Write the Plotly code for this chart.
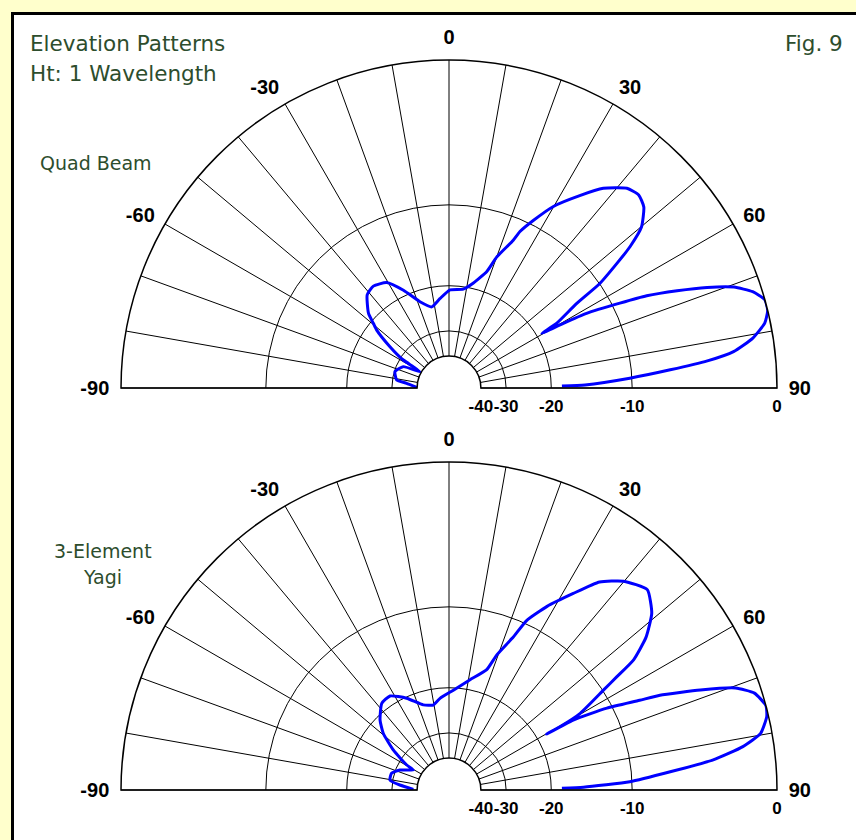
import plotly.graph_objects as go

# ---- data (elevation angle measured from zenith, gain in dB) ----
quad_theta = [89.0, 88.7, 86.9, 85.3, 84.0, 82.7, 80.7, 78.4, 76.3, 74.4, 72.4, 70.5,
              68.7, 66.9, 65.0, 63.6, 61.5, 60.5, 59.5, 59.0, 56.5, 55.3, 53.4, 52.0,
              50.1, 47.1, 44.5, 41.7, 37.7, 34.2, 29.9, 26.7, 24.4, 23.5, 20.0, 18.0,
              13.1, 8.2, 0.6, -5.7, -12.0, -18.6, -25.0, -30.6, -36.6, -41.3, -47.2,
              -49.5, -51.3, -55.0, -58.5, -59.2, -60.7, -65.0, -73.2, -81.3, -83.7, -88.8]
quad_db = [-18.3, -15.1, -10.2, -6.7, -4.0, -2.3, -1.1, -0.3, 0.0, 0.0, -0.5, -1.4,
           -2.9, -4.8, -7.0, -9.3, -12.7, -15.7, -19.1, -16.5, -13.1, -10.0, -7.7, -6.1,
           -4.6, -3.6, -3.3, -3.5, -4.5, -5.9, -7.7, -9.6, -11.1, -12.2, -14.7, -16.9,
           -19.1, -20.4, -20.7, -22.2, -23.6, -22.0, -19.1, -16.9, -16.3, -16.7, -18.8,
           -20.5, -21.7, -26.0, -31.1, -35.4, -39.3, -32.1, -30.2, -31.3, -35.0, -39.8]

yagi_theta = [89.1, 88.8, 87.4, 85.3, 83.5, 81.6, 79.7, 77.0, 75.1, 72.4, 70.4, 68.3,
              65.8, 64.8, 62.6, 60.6, 60.2, 60.3, 59.7, 57.1, 56.0, 54.8, 52.2, 48.9,
              44.7, 39.9, 35.9, 32.3, 28.1, 24.6, 22.8, 19.5, 17.4, 10.8, 2.5, -5.6,
              -10.5, -16.8, -24.8, -32.1, -37.8, -44.6, -49.2, -54.3, -59.4, -60.7,
              -67.8, -73.8, -80.4, -84.2, -88.9]
yagi_db = [-18.3, -15.3, -10.2, -6.7, -3.6, -1.7, -0.6, -0.1, 0.0, -0.4, -1.3, -3.3,
           -6.0, -7.6, -10.5, -14.3, -18.4, -16.2, -13.2, -9.9, -8.3, -6.4, -4.7, -3.4,
           -2.6, -3.2, -4.2, -5.9, -7.8, -9.7, -11.7, -14.2, -16.4, -18.4, -20.4, -21.8,
           -22.9, -22.4, -20.2, -18.6, -18.8, -20.7, -22.8, -26.9, -32.6, -35.7,
           -31.3, -29.2, -29.2, -32.5, -38.1]

db_ticks = [-40, -30, -20, -10, 0]
db_tick_labels = ["-40", "-30", "-20", "-10", "0"]
angle_ticks = list(range(-90, 91, 10))
angle_labels = {-90: "-90", -60: "-60", -30: "-30", 0: "0", 30: "30", 60: "60", 90: "90"}

W, H = 856, 840


def arrl(db):
    """ARRL log-periodic radial scale: 0.89 per 2 dB."""
    return [0.89 ** (-d / 2.0) for d in db]


r_min = arrl([db_ticks[0]])[0]
ang_font = dict(family="Liberation Sans", size=20, color="black", weight="bold")
rad_font = dict(family="Liberation Sans", size=17, color="black", weight="bold")


def polar_cfg(ytop_px, ybot_px):
    return dict(
        domain=dict(x=[121 / W, 777 / W], y=[1 - ybot_px / H, 1 - ytop_px / H]),
        sector=[0, 180],
        hole=r_min,
        bgcolor="white",
        angularaxis=dict(
            rotation=90, direction="clockwise",
            tickmode="array",
            tickvals=angle_ticks,
            ticktext=[angle_labels.get(t, "") for t in angle_ticks],
            showgrid=True, gridcolor="black", gridwidth=1.2,
            showline=True, linecolor="black", linewidth=1.5,
            ticks="outside", ticklen=7, tickcolor="rgba(0,0,0,0)",
            tickfont=ang_font,
        ),
        radialaxis=dict(
            range=[r_min, 1.0], tickmode="array",
            tickvals=arrl(db_ticks), ticktext=db_tick_labels,
            showgrid=True, gridcolor="black", gridwidth=1.3,
            showline=False, ticks="outside", ticklen=3, tickcolor="rgba(0,0,0,0)",
            tickfont=rad_font, tickangle=0, angle=0, side="clockwise",
        ),
    )


fig = go.Figure()
fig.add_trace(go.Scatterpolar(r=arrl(quad_db), theta=quad_theta, mode="lines",
                              line=dict(color="#0000FF", width=3, shape="spline", smoothing=0.5),
                              subplot="polar", hoverinfo="skip"))
fig.add_trace(go.Scatterpolar(r=arrl(yagi_db), theta=yagi_theta, mode="lines",
                              line=dict(color="#0000FF", width=3, shape="spline", smoothing=0.5),
                              subplot="polar2", hoverinfo="skip"))

text_color = "#2d4d2d"
label_font = dict(family="DejaVu Sans", size=19, color=text_color)
title_font = dict(family="DejaVu Sans", size=21.5, color=text_color)


def ann(text, x_px, y_px, xanchor, font):
    return dict(text=text, x=x_px / W, y=1 - y_px / H, xref="paper", yref="paper",
                xanchor=xanchor, yanchor="middle", showarrow=False, font=font)


fig.update_layout(
    width=W, height=H,
    margin=dict(l=0, r=0, t=0, b=0),
    paper_bgcolor="#FFFFCC",
    showlegend=False,
    polar=polar_cfg(60, 388),
    polar2=polar_cfg(462, 790),
    shapes=[dict(type="rect", xref="paper", yref="paper",
                 x0=12.5 / W, x1=1.05, y0=-0.05, y1=1 - 13.5 / H,
                 line=dict(color="black", width=3), fillcolor="white", layer="below")],
    annotations=[
        ann("Elevation Patterns", 28, 43, "left", title_font),
        ann("Ht: 1 Wavelength", 28, 73, "left", title_font),
        ann("Fig. 9", 845, 43, "right", title_font),
        ann("Quad Beam", 96, 163, "center", label_font),
        ann("3-Element", 102.5, 551, "center", label_font),
        ann("Yagi", 102.5, 577, "center", label_font),
    ],
)

fig.write_html("out.html", config={"displayModeBar": False},
               post_script="document.body.style.margin='0px';")
